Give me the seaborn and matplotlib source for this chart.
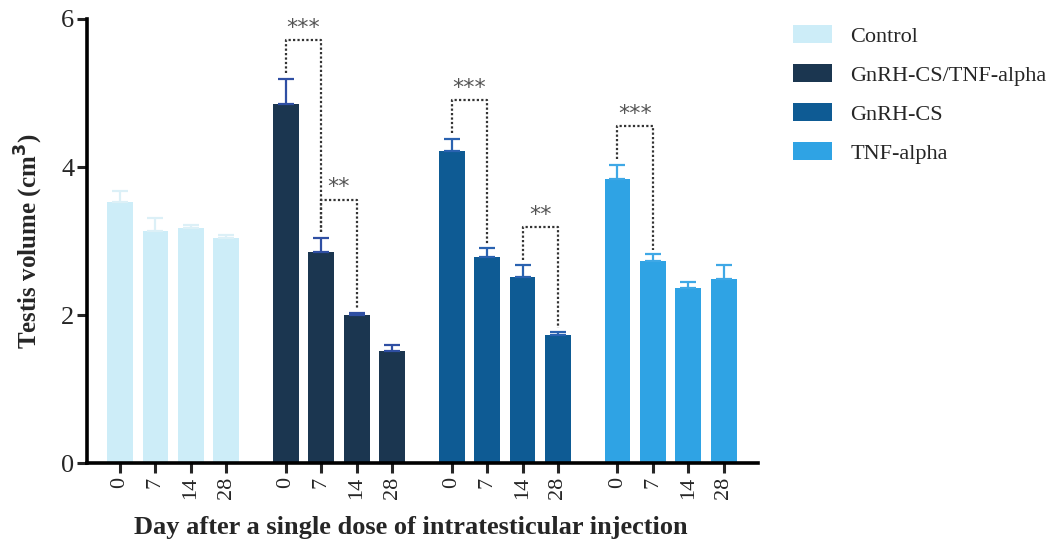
import pandas as pd
import matplotlib.pyplot as plt
import seaborn as sns
from matplotlib.patches import Patch

# ==========================================
# data
# ==========================================
groups = ["Control", "GnRH-CS/TNF-alpha", "GnRH-CS", "TNF-alpha"]
days = ["0", "7", "14", "28"]

control_mean = [3.53, 3.14, 3.17, 3.04]
control_sem = [0.15, 0.17, 0.04, 0.04]
combo_mean = [4.85, 2.85, 2.00, 1.51]
combo_sem = [0.34, 0.19, 0.03, 0.08]
gnrh_mean = [4.21, 2.79, 2.52, 1.73]
gnrh_sem = [0.17, 0.12, 0.15, 0.04]
tnf_mean = [3.84, 2.73, 2.36, 2.48]
tnf_sem = [0.19, 0.10, 0.08, 0.19]

colors = ["#cdedf8", "#1b3650", "#0e5b94", "#2fa3e4"]
err_colors = ["#dcf0f7", "#2f4fa3", "#2a62b0", "#3fa8e6"]

# significance: (group index, day a, day b, stars)
sig = [(1, 0, 1, "***"), (1, 1, 2, "**"), (2, 0, 1, "***"), (2, 2, 3, "**"), (3, 0, 1, "***")]

means = [control_mean, combo_mean, gnrh_mean, tnf_mean]
sems = [control_sem, combo_sem, gnrh_sem, tnf_sem]

rows = []
for g, m, s in zip(groups, means, sems):
    for d, v, e in zip(days, m, s):
        rows.append({"group": g, "day": d, "volume": v, "sem": e})
df = pd.DataFrame(rows)

# ==========================================
# plot
# ==========================================
sns.set_style("white")
plt.rcParams['font.family'] = ['Liberation Serif', 'DejaVu Serif']

fig = plt.figure(figsize=(10.63, 5.49), dpi=100)
ax = fig.add_axes([0.0818, 0.1566, 0.631, 0.8088])

sns.barplot(data=df, x="group", y="volume", hue="day", order=groups, hue_order=days,
            width=0.855, gap=0.27, errorbar=None, legend=False, ax=ax)

# recolour bars by group, collect centres
centers = {}
for hi, cont in enumerate(ax.containers):
    for gi, bar in enumerate(cont.patches):
        bar.set_facecolor(colors[gi])
        bar.set_edgecolor("none")
        centers[(gi, hi)] = bar.get_x() + bar.get_width() / 2

# upper error bars
for gi in range(len(groups)):
    xs = [centers[(gi, hi)] for hi in range(len(days))]
    ax.errorbar(xs, means[gi], yerr=[[0] * len(days), sems[gi]], fmt="none",
                ecolor=err_colors[gi], elinewidth=1.6, capsize=6, capthick=1.6, zorder=3)

# significance brackets
for gi, a, b, stars in sig:
    ta = means[gi][a] + sems[gi][a]
    tb = means[gi][b] + sems[gi][b]
    top = max(ta, tb) + 0.52
    xa, xb = centers[(gi, a)], centers[(gi, b)]
    ax.plot([xa, xa, xb, xb], [ta + 0.08, top, top, tb + 0.05],
            color="#333333", linestyle=(0, (1, 1)), linewidth=1.6, zorder=4)
    ax.text((xa + xb) / 2, top + 0.03, stars, ha="center", va="bottom",
            fontsize=16, color="#555555", family="DejaVu Sans")

ax.set_ylim(0, 6)
ax.set_xlim(-0.52, 3.525)
ax.set_yticks([0, 2, 4, 6])
ax.tick_params(axis="y", labelsize=19, length=7, width=2.2, direction="out", left=True, pad=2)

xt = [centers[(gi, hi)] for gi in range(len(groups)) for hi in range(len(days))]
ax.set_xticks(xt)
ax.set_xticklabels(days * len(groups), rotation=90, fontsize=16)
ax.tick_params(axis="x", length=7, width=2.2, direction="out", bottom=True, pad=3)

for side in ["top", "right"]:
    ax.spines[side].set_visible(False)
for side in ["left", "bottom"]:
    ax.spines[side].set_linewidth(2.6)
    ax.spines[side].set_color("black")

ax.set_ylabel("Testis volume (cm$^\\mathbf{3}$)", fontsize=18, fontweight="bold", labelpad=12)
ax.set_xlabel("Day after a single dose of intratesticular injection", fontsize=19,
              fontweight="bold", labelpad=12)
ax.xaxis.set_label_coords(0.483, -0.12)

handles = [Patch(facecolor=c, edgecolor="none", label=g) for c, g in zip(colors, groups)]
fig.legend(handles=handles, loc="upper left", bbox_to_anchor=(0.727, 0.99), frameon=False,
           fontsize=16, handlelength=1.75, handleheight=0.85, labelspacing=0.78, handletextpad=0.85)

plt.savefig("out.png", dpi=100)
plt.close()
